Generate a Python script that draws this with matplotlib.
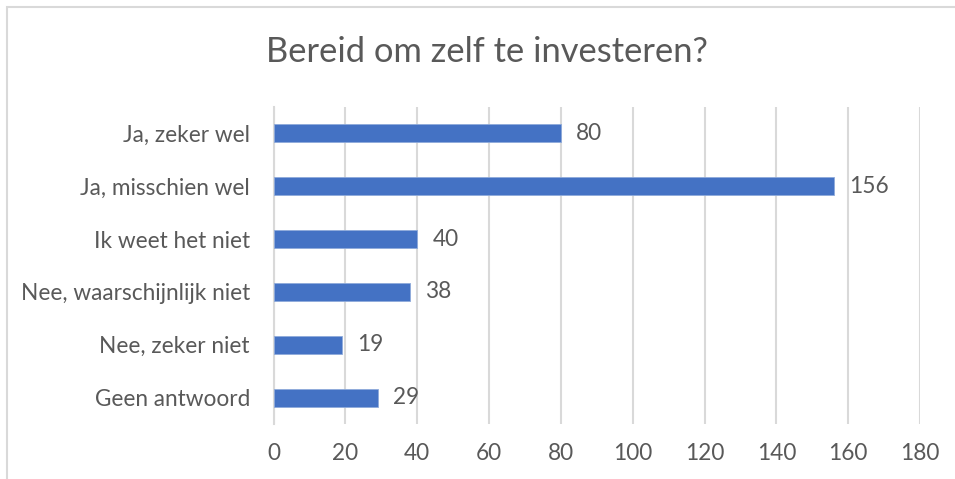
import matplotlib.pyplot as plt
from matplotlib.patches import Rectangle

categories = ["Ja, zeker wel", "Ja, misschien wel", "Ik weet het niet",
              "Nee, waarschijnlijk niet", "Nee, zeker niet", "Geen antwoord"]
counts = [80, 156, 40, 38, 19, 29]
xticks = [0, 20, 40, 60, 80, 100, 120, 140, 160, 180]

text_color = "#595959"
grid_color = "#d9d9d9"
bar_color = "#4472c4"

plt.rcParams['font.family'] = ['Lato', 'DejaVu Sans']

fig = plt.figure(figsize=(9.55, 4.79), dpi=100)
ax = fig.add_axes([0.2864, 0.1148, 0.677, 0.6618])

# chart border like the office chart frame
fig.patches.append(Rectangle((7 / 955, -0.1), 1.2, 1 - 7 / 479 + 0.1,
                             transform=fig.transFigure, fill=False,
                             edgecolor=grid_color, linewidth=1.5))

y = range(len(categories))
ax.barh(y, counts, height=0.34, color=bar_color, edgecolor="#8eaadb",
        linewidth=0.6, zorder=3)
ax.set_ylim(len(categories) - 0.5, -0.5)
ax.set_yticks(list(y))
ax.set_yticklabels(categories, fontsize=16.3, color=text_color)

ax.set_xlim(0, 180)
ax.set_xticks(xticks)
ax.set_xticklabels([str(t) for t in xticks], fontsize=16.3, color=text_color)
ax.grid(axis='x', color=grid_color, linewidth=1.5, zorder=0)
ax.tick_params(length=0)
ax.tick_params(axis='x', pad=14)
ax.tick_params(axis='y', pad=17)
for side in ["top", "right", "bottom"]:
    ax.spines[side].set_visible(False)
ax.spines["left"].set_color(grid_color)
ax.spines["left"].set_linewidth(1.5)

for i, v in enumerate(counts):
    ax.annotate(str(v), (v, i), xytext=(11, 0), textcoords="offset points",
                va="center", ha="left", fontsize=16.3, color=text_color)

fig.text(487 / 955, 1 - 52 / 479, "Bereid om zelf te investeren?",
         ha="center", va="center", fontsize=24.8, color=text_color)

fig.savefig("out.png", dpi=100)
